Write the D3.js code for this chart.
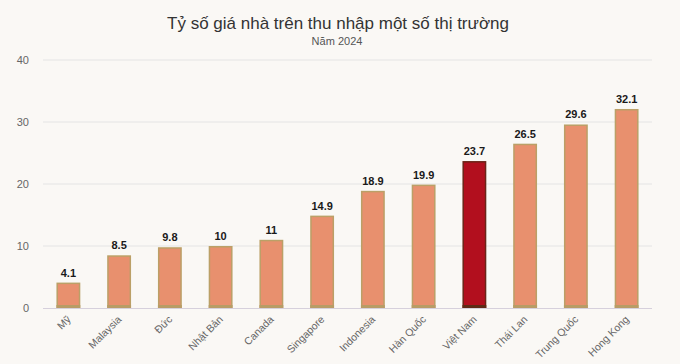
<!DOCTYPE html>
<html><head><meta charset="utf-8">
<script src="https://cdn.jsdelivr.net/npm/d3@7"></script>
<style>
html,body{margin:0;padding:0;background:#faf8f5;}
svg{display:block;font-family:"Liberation Sans",Arial,sans-serif;}
</style></head>
<body><svg id="c" width="680" height="364"></svg>
<script>
const categories = ["Mỹ","Malaysia","Đức","Nhật Bản","Canada","Singapore","Indonesia","Hàn Quốc","Việt Nam","Thái Lan","Trung Quốc","Hong Kong"];
const values = [4.1, 8.5, 9.8, 10, 11, 14.9, 18.9, 19.9, 23.7, 26.5, 29.6, 32.1];
const yTicks = [0, 10, 20, 30, 40];
const highlight = "Việt Nam";
const title = "Tỷ số giá nhà trên thu nhập một số thị trường";
const subtitle = "Năm 2024";

const svg = d3.select("#c");
const x = d3.scaleBand().domain(categories).range([43, 652]).paddingInner(0.53).paddingOuter(0.265);
const y = d3.scaleLinear().domain([0, 40]).range([308, 60]);

svg.append("text").attr("x", 338).attr("y", 29).attr("text-anchor", "middle")
  .attr("font-size", 17).attr("fill", "#333").text(title);
svg.append("text").attr("x", 337).attr("y", 45).attr("text-anchor", "middle")
  .attr("font-size", 11).attr("fill", "#555").text(subtitle);

// grid
svg.append("g").selectAll("line").data(yTicks.filter(d => d > 0)).join("line")
  .attr("x1", 43).attr("x2", 652).attr("y1", d => y(d)).attr("y2", d => y(d))
  .attr("stroke", "#e4e4e4").attr("stroke-width", 1);

// y labels
svg.append("g").selectAll("text").data(yTicks).join("text")
  .attr("x", 29).attr("y", d => y(d) + 4).attr("text-anchor", "end")
  .attr("font-size", 11).attr("fill", "#666").text(d => d);

// bars
svg.append("g").selectAll("rect").data(categories).join("rect")
  .attr("x", d => x(d) + 0.75).attr("width", x.bandwidth() - 1.5)
  .attr("y", (d, i) => y(values[i]) + 0.75)
  .attr("height", (d, i) => y(0) - y(values[i]) - 1.5)
  .attr("fill", d => d === highlight ? "#b20f1e" : "#e8906e")
  .attr("stroke", d => d === highlight ? "#6b2418" : "#bba067")
  .attr("stroke-width", 1.5);

// bottom band on bars
svg.append("g").selectAll("rect").data(categories).join("rect")
  .attr("x", d => x(d)).attr("width", x.bandwidth())
  .attr("y", y(0) - 3).attr("height", 3)
  .attr("fill", d => d === highlight ? "#5e2a16" : "#b89c66");

// baseline
svg.append("line").attr("x1", 43).attr("x2", 652).attr("y1", y(0) + 0.5).attr("y2", y(0) + 0.5)
  .attr("stroke", "#d6d0dc").attr("stroke-width", 1);

// value labels
svg.append("g").selectAll("text").data(categories).join("text")
  .attr("x", d => x(d) + x.bandwidth() / 2)
  .attr("y", (d, i) => y(values[i]) - 6)
  .attr("text-anchor", "middle").attr("font-size", 11).attr("font-weight", "bold")
  .attr("fill", "#1a1a1a").text((d, i) => values[i]);

// x labels
svg.append("g").selectAll("text").data(categories).join("text")
  .attr("transform", d => `translate(${x(d) + x.bandwidth() / 2 + 3},${y(0) + 12}) rotate(-45)`)
  .attr("text-anchor", "end").attr("font-size", 10.5).attr("fill", "#666")
  .text(d => d);
</script></body></html>
